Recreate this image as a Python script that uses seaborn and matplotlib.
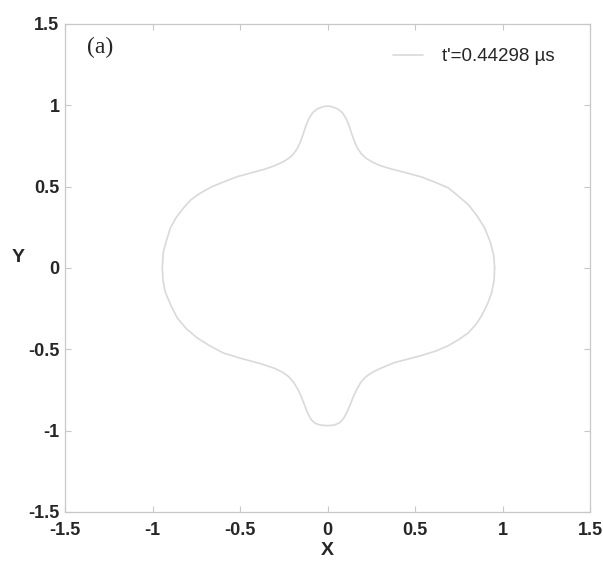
import matplotlib
matplotlib.use("Agg")
import matplotlib.pyplot as plt
import seaborn as sns
import pandas as pd

# Contour points (closed curve, counter-clockwise)
x_vals = [
    0.955, 0.950, 0.930, 0.898, 0.855, 0.806, 0.750, 0.691, 0.620, 0.536, 0.440, 0.360,
    0.300, 0.255, 0.220, 0.195, 0.172, 0.155, 0.140, 0.125, 0.108, 0.085, 0.055, 0.020, 0.000,
    -0.020, -0.055, -0.085, -0.108, -0.125, -0.140, -0.155, -0.172, -0.195, -0.220, -0.255,
    -0.300, -0.360, -0.439, -0.520, -0.594, -0.660, -0.726, -0.780, -0.823, -0.865, -0.898,
    -0.920, -0.938, -0.944,
    -0.940, -0.927, -0.895, -0.858, -0.805, -0.743, -0.670, -0.594, -0.490, -0.382,
    -0.300, -0.255, -0.222, -0.195, -0.170, -0.150, -0.132, -0.115, -0.095, -0.070,
    -0.040, 0.000,
    0.037, 0.068, 0.092, 0.112, 0.130, 0.148, 0.168, 0.192, 0.220, 0.255, 0.300, 0.381,
    0.460, 0.536, 0.620, 0.691, 0.750, 0.806, 0.850, 0.881, 0.915, 0.938, 0.952, 0.955,
]
y_vals = [
    0.000, 0.077, 0.160, 0.246, 0.320, 0.388, 0.440, 0.492, 0.525, 0.560, 0.588, 0.610,
    0.630, 0.652, 0.675, 0.700, 0.735, 0.775, 0.820, 0.870, 0.915, 0.955, 0.980, 0.993, 0.995,
    0.993, 0.980, 0.955, 0.915, 0.870, 0.820, 0.775, 0.735, 0.700, 0.675, 0.652,
    0.630, 0.607, 0.584, 0.560, 0.529, 0.500, 0.461, 0.420, 0.369, 0.310, 0.246,
    0.170, 0.098, 0.000,
    -0.075, -0.148, -0.230, -0.308, -0.375, -0.431, -0.480, -0.523, -0.557, -0.588,
    -0.618, -0.642, -0.668, -0.700, -0.745, -0.790, -0.840, -0.888, -0.930, -0.955,
    -0.966, -0.969,
    -0.966, -0.952, -0.925, -0.885, -0.840, -0.790, -0.745, -0.700, -0.668, -0.642, -0.618,
    -0.582, -0.560, -0.538, -0.510, -0.477, -0.440, -0.397, -0.345, -0.292, -0.220, -0.151,
    -0.075, 0.000,
]
series_label = "t'=0.44298 \u00b5s"
tick_values = [-1.5, -1, -0.5, 0, 0.5, 1, 1.5]
tick_labels = ["-1.5", "-1", "-0.5", "0", "0.5", "1", "1.5"]

sns.set_style("white")
plt.rcParams['font.family'] = ['Liberation Sans', 'DejaVu Sans']

df = pd.DataFrame({"X": x_vals, "Y": y_vals})

fig = plt.figure(figsize=(6.03, 5.64), dpi=100)
ax = fig.add_axes([65/603, 52/564, 525/603, 488/564])

sns.lineplot(data=df, x="X", y="Y", sort=False, estimator=None, ax=ax,
             color="#d9d9d9", linewidth=1.2, label=series_label)

ax.set_xlim(-1.5, 1.5)
ax.set_ylim(-1.5, 1.5)
ax.set_xticks(tick_values)
ax.set_xticklabels(tick_labels, fontsize=13, fontweight="bold")
ax.set_yticks(tick_values)
ax.set_yticklabels(tick_labels, fontsize=13, fontweight="bold")
ax.tick_params(axis="x", pad=7)
ax.tick_params(axis="y", pad=4)
ax.tick_params(direction="in", length=4, width=0.8, color="#c8c8c8",
               top=True, right=True, bottom=True, left=True)
for s in ax.spines.values():
    s.set_color("#c8c8c8")
    s.set_linewidth(0.9)

ax.set_xlabel("X", fontsize=14, fontweight="bold", va="center")
ax.set_ylabel("Y", fontsize=14, fontweight="bold", rotation=0, va="center", ha="center")
ax.xaxis.set_label_coords(0.499, -0.078)
ax.yaxis.set_label_coords(-0.0895, 0.5225)

ax.text(-1.3, 1.355, "(a)", fontsize=17, family=["Liberation Serif", "DejaVu Serif"],
        ha="center", va="center")

leg = ax.legend(loc="upper right", frameon=False, fontsize=13.5,
                handlelength=1.6, handletextpad=1.0, bbox_to_anchor=(0.965, 0.985))

fig.savefig("out.png", dpi=100)
